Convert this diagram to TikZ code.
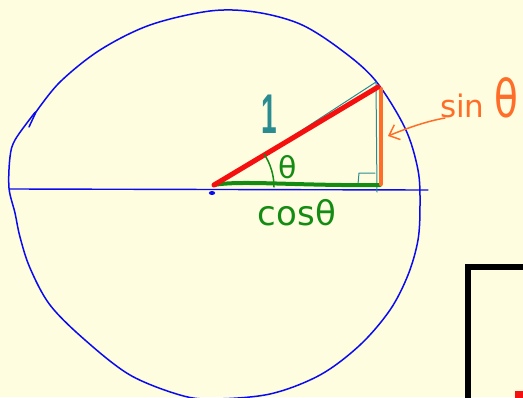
\documentclass[tikz,border=0pt]{standalone}
\usepackage{fontspec}
\setmainfont{DejaVu Sans}
\newfontfamily\onefont{Liberation Sans}
\usepackage{graphicx}
\usetikzlibrary{arrows.meta}
\definecolor{bg}{RGB}{255,253,224}
\definecolor{penblue}{RGB}{10,10,240}
\definecolor{penred}{RGB}{245,15,15}
\definecolor{penorange}{RGB}{255,110,40}
\definecolor{pengreen}{RGB}{20,140,20}
\definecolor{penteal}{RGB}{40,140,145}
\tikzset{
  circlepen/.style={draw=penblue,line width=1.5pt,line cap=round,line join=round},
  axispen/.style={draw=penblue,line width=1.4pt,line cap=round},
  hyp/.style={draw=penred,line width=5pt,line cap=round},
  opp/.style={draw=penorange,line width=4.5pt,line cap=round},
  adj/.style={draw=pengreen,line width=4pt,line cap=round},
  thin teal/.style={draw=penteal,line width=1pt,line cap=round,line join=round},
  arcpen/.style={draw=pengreen,line width=1.5pt,line cap=round},
  pointer/.style={draw=penorange,line width=1.5pt,line cap=round,-{Straight Barb[length=9pt,width=16pt]}},
  lbl/.style={inner sep=0pt,anchor=base},
}
\begin{document}
\begin{tikzpicture}[x=1pt,y=-1pt]
\path[use as bounding box,fill=bg] (0,0) rectangle (523,397);
\clip (0,0) rectangle (523,397);

% hand-drawn circle
\draw[circlepen] plot[smooth,tension=0.55] coordinates {
 (36,112) (60,82) (100,50) (150,25) (210,11) (255,12) (300,24) (340,49) (375,80)
 (405,128) (418,170) (420,205) (418,240) (408,275) (390,310) (360,345) (320,375)
 (270,394) (213,399) (180,395) (130,375) (85,340) (50,305) (30,268) (20,237)
 (15,213) (9,188) (10,157) (15,140) (33,115) (36,112)};
\draw[circlepen] (36,112) -- (29,127);

% axis
\coordinate (L) at (10,189);
\coordinate (R) at (428,190);
\draw[axispen] (L) -- (R);

% points
\coordinate (O) at (214,185);
\coordinate (P) at (378,87);
\coordinate (F) at (380,185);
\coordinate (Ot) at (216,186);
\coordinate (Pt) at (376,82);
\coordinate (Ft) at (377,192);
\coordinate (Ptop) at (381,89);
\coordinate (Fbot) at (381,184);
\coordinate (A0) at (274,187);

% teal helper triangle
\draw[thin teal] (Ot) -- (Pt) -- (Ft);
\draw[thin teal] (358,184) -- (359,173) -- (375,173);

% cos (green)
\draw[adj] (O) .. controls (240,180) and (300,186) .. (F);
% sin (orange)
\draw[opp] (Ptop) -- (Fbot);
% hypotenuse (red)
\draw[hyp] (O) -- (P);

% origin dot
\fill[penblue] (212,193) ellipse (3.2 and 2);

% angle arc
\draw[arcpen] (A0) arc[start angle=0,end angle=-33,radius=60];

% labels
\node[lbl,text=penteal,font=\onefont\bfseries\fontsize{56}{56}\selectfont] (one) at (269,133) {\scalebox{0.5}[1]{1}};
\node[lbl,text=pengreen,font=\fontsize{30}{30}\selectfont] (th) at (288,178) {θ};
\node[lbl,text=pengreen,font=\fontsize{34}{34}\selectfont] (cos) at (297,225) {cosθ};
\node[inner sep=0pt,anchor=base west,text=penorange,font=\fontsize{31}{31}\selectfont] (sin) at (440,117)
  {sin \scalebox{0.75}[1]{\fontsize{52}{52}\selectfont θ}};

% pointer
\coordinate (a1) at (445,118);
\coordinate (tgt) at (388,136);
\draw[pointer] (a1) .. controls (428,121) and (410,127) .. (tgt);

% black frame at bottom right
\draw[black,line width=6pt] (468,420) -- (468,266.5) -- (560,266.5);
\fill[penred] (515,391) rectangle (530,400);
\end{tikzpicture}
\end{document}
